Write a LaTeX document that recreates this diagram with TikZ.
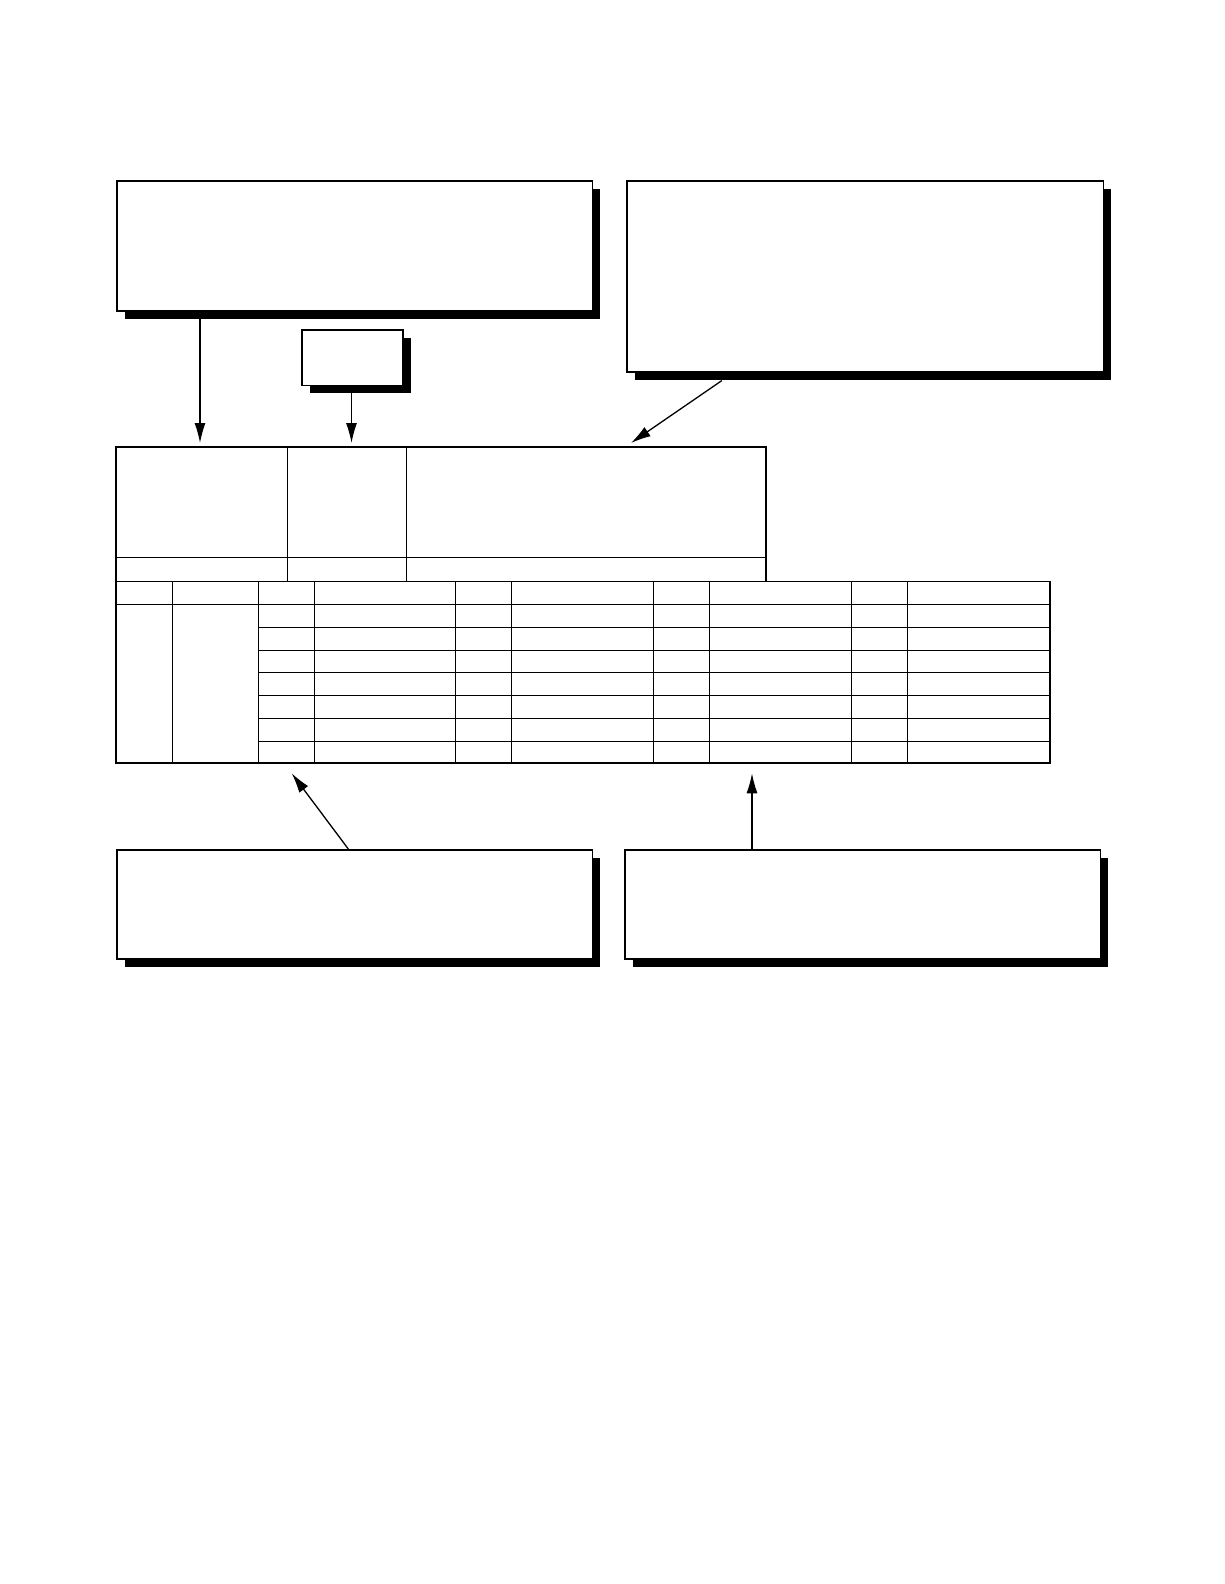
\documentclass[tikz,border=0pt]{standalone}
\usetikzlibrary{positioning,arrows.meta,shadows}
\tikzset{
  panel/.style={draw, line width=1.6pt, fill=white, inner sep=0pt, anchor=north west,
    general shadow={fill=black, shadow xshift=8pt, shadow yshift=-8pt}},
  arr/.style={line width=1.3pt, -{Latex[length=20pt,width=11pt]}},
  outerline/.style={line width=1.6pt},
  midline/.style={line width=1.1pt},
  gridline/.style={line width=0.8pt}
}
\begin{document}
\begin{tikzpicture}[x=1pt,y=-1pt]
        \useasboundingbox (0,0) rectangle (1224,1584);
        % callout boxes
        \node[panel, minimum width=475.5pt, minimum height=130pt] (noteA) at (116,180) {};
        \node[panel, minimum width=476.5pt, minimum height=191pt] (noteB) at (626,180) {};
        \node[panel, minimum width=101pt, minimum height=55.5pt] (noteC) at (301,329) {};
        \node[panel, minimum width=475.5pt, minimum height=109pt] (noteD) at (116,849) {};
        \node[panel, minimum width=475.5pt, minimum height=109pt] (noteE) at (624,849) {};
        % upper part of the record
        \draw[outerline] (116,447) rectangle (766,581.5);
        \draw[midline] (287.7,447) -- (287.7,581.5) (406.8,447) -- (406.8,581.5) (116,557.2) -- (766,557.2);
        % lower part of the record
        \draw[outerline] (766,581.5) -- (1050,581.5) -- (1050,763.2) -- (116,763.2) -- (116,581.5);
        \draw[gridline] (116,581.5) -- (766,581.5) (116,604.7) -- (1050,604.7);
        \foreach \x in {172.6,258.4,314,455.3,511.8,653.1,709.7,851,907.5}
         {
        \draw[gridline] (\x,581.5) -- (\x,763.2);
        }
        \foreach \y in {626.9,650.1,672.3,695.5,718.8,741}
         {
        \draw[gridline] (258.4,\y) -- (1050,\y);
        }
        % arrow ends
        \coordinate (inA) at (200,443);
        \coordinate (inC) at (351.5,443);
        \coordinate (inB) at (631,443);
        \coordinate (inD) at (291.7,773.3);
        \coordinate (inE) at (752,773.3);
        \draw[arr] (noteA.south west -| inA) -- (inA);
        \draw[arr] (noteC.south -| inC) -- (inC);
        \draw[arr] ([xshift=95.8pt,yshift=-8pt]noteB.south west) -- (inB);
        \draw[arr] ([xshift=232.3pt]noteD.north west) -- (inD);
        \draw[arr] (noteE.north west -| inE) -- (inE);
\end{tikzpicture}
\end{document}
